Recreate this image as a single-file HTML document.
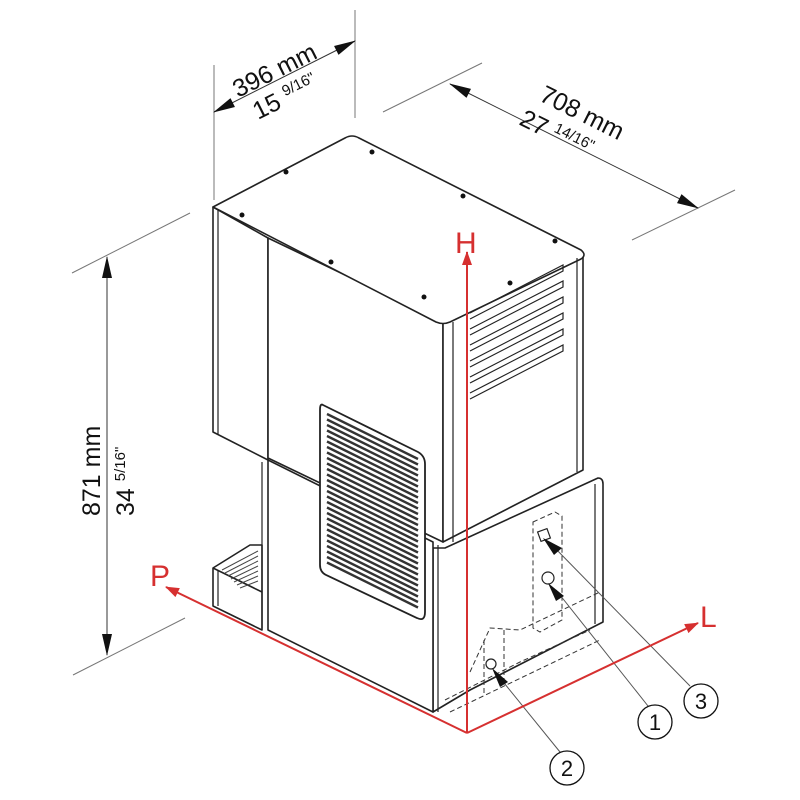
<!DOCTYPE html>
<html><head><meta charset="utf-8"><style>
html,body{margin:0;padding:0;background:#fff;}
svg{display:block;font-family:"Liberation Sans",Arial,sans-serif;}
</style></head><body>
<svg width="800" height="800" viewBox="0 0 800 800" xmlns="http://www.w3.org/2000/svg">
<defs>
<marker id="ar" markerWidth="14" markerHeight="10" refX="13" refY="5" orient="auto" markerUnits="userSpaceOnUse"><path d="M0,0 L14,5 L0,10 z" fill="#d63030"/></marker>
<marker id="ab" markerWidth="22" markerHeight="12" refX="21" refY="6" orient="auto-start-reverse" markerUnits="userSpaceOnUse"><path d="M0,1 L22,6 L0,11 z" fill="#111"/></marker>
</defs>
<g stroke="#777" stroke-width="1" fill="none">
<line x1="214" y1="65" x2="214" y2="200"/>
<line x1="355" y1="10" x2="355" y2="118"/>
<line x1="383" y1="112" x2="482" y2="63"/>
<line x1="632" y1="240" x2="735" y2="190"/>
<line x1="72" y1="273" x2="190" y2="213"/>
<line x1="73" y1="675" x2="185" y2="618"/>
</g>
<g stroke="#333" stroke-width="1">
<line x1="214" y1="112" x2="355" y2="41" marker-start="url(#ab)" marker-end="url(#ab)"/>
<line x1="450" y1="84" x2="698" y2="208" marker-start="url(#ab)" marker-end="url(#ab)"/>
<line x1="107" y1="257" x2="107" y2="655" marker-start="url(#ab)" marker-end="url(#ab)"/>
</g>
<g fill="#111" font-size="25">
<text transform="translate(238,98) rotate(-26.6)">396 mm</text>
<text transform="translate(258,120) rotate(-26.6)">15 <tspan font-size="15" dy="-9">9/16"</tspan></text>
<text transform="translate(538,100) rotate(26.6)">708 mm</text>
<text transform="translate(518,124) rotate(26.6)">27 <tspan font-size="15" dy="-9">14/16"</tspan></text>
<text transform="translate(100,516) rotate(-90)">871 mm</text>
<text transform="translate(134,516) rotate(-90)">34 <tspan font-size="15" dy="-9">5/16"</tspan></text>
</g>
<g stroke="#222" stroke-width="1.6" fill="#fff" stroke-linejoin="round">
<path d="M445,548 L598,478 Q603,478 603,484 L603,622 L470,690 L433,712 L433,548 z"/>
<path d="M268,460 L433,542 L433,712 L268,630 z"/>
<path d="M213,568 L250,545 L262,545 L262,630 L213,606 z"/>
<path d="M213,568 L262,592" fill="none"/>
<path d="M213,207 L268,238 L268,460 L213,432 z"/>
<path d="M268,238 L443,322 L443,542 L268,458 z"/>
<path d="M443,322 L583,254 L583,470 L443,542 z"/>
<path d="M213,207 L345,138 Q352,134 359,138 L581,250 Q587,255 581,259 L450,322 Q443,325 436,322 z"/>
</g>
<g stroke="#222" stroke-width="1.2" fill="none">
<line x1="453" y1="322" x2="453" y2="542"/>
<line x1="577" y1="258" x2="577" y2="472"/>
<line x1="218" y1="210" x2="218" y2="434"/>
<line x1="262" y1="462" x2="262" y2="628"/>
<line x1="438" y1="545" x2="438" y2="712"/>
<line x1="595" y1="484" x2="595" y2="624"/>
<line x1="218" y1="570" x2="218" y2="606"/>
</g>
<g stroke="#444" stroke-width="1">
<path d="M222,570 L258,551 M225,573 L258,556 M228,576 L258,561 M231,579 L258,566 M234,582 L258,571 M237,585 L258,576 M240,588 L258,581"/>
</g>
<g fill="#111">
<circle cx="242" cy="215" r="2.5"/><circle cx="286" cy="172" r="2.5"/><circle cx="372" cy="152" r="2.5"/>
<circle cx="331" cy="262" r="2.5"/><circle cx="463" cy="196" r="2.5"/><circle cx="424" cy="297" r="2.5"/>
<circle cx="555" cy="241" r="2.5"/><circle cx="510" cy="283" r="2.5"/>
</g>
<path d="M323,405 L418,452 Q425,456 425,464 L425,612 Q425,622 417,618 L326,575 Q320,572 320,565 L320,410 Q320,403 323,405 z" fill="#fff" stroke="#222" stroke-width="1.8"/>
<g stroke="#333" stroke-width="2.4">
<path d="M327,414L418,459M327,419.5L418,464.5M327,425L418,470M327,430.5L418,475.5M327,436L418,481M327,441.5L418,486.5M327,447L418,492M327,452.5L418,497.5M327,458L418,503M327,463.5L418,508.5M327,469L418,514M327,474.5L418,519.5M327,480L418,525M327,485.5L418,530.5M327,491L418,536M327,496.5L418,541.5M327,502L418,547M327,507.5L418,552.5M327,513L418,558M327,518.5L418,563.5M327,524L418,569M327,529.5L418,574.5M327,535L418,580M327,540.5L418,585.5M327,546L418,591M327,551.5L418,596.5M327,557L418,602M327,562.5L418,607.5"/>
</g>
<g stroke="#222" stroke-width="1.2" fill="none">
<path d="M470,313 L563,265 L563,271 L470,319"/>
<path d="M470,329 L563,281 L563,287 L470,335"/>
<path d="M470,345 L563,297 L563,303 L470,351"/>
<path d="M470,361 L563,313 L563,319 L470,367"/>
<path d="M470,377 L563,329 L563,335 L470,383"/>
<path d="M470,393 L563,345 L563,351 L470,399"/>
</g>
<g stroke="#333" stroke-width="1" fill="none" stroke-dasharray="5,3">
<path d="M533,522 L555,512 L562,516 L562,620 L540,632 L533,628 z"/>
<path d="M470,672 L490,628 L520,630 L600,592"/>
<path d="M484,640 L484,695 M504,630 L504,685"/>
<path d="M445,700 L520,662 L590,630"/>
<path d="M450,712 L600,640"/>
</g>
<g stroke="#222" stroke-width="1.2" fill="#fff">
<rect x="539" y="530" width="10" height="10" transform="rotate(-20 544 535)"/>
<circle cx="548" cy="578" r="6"/>
<circle cx="491" cy="664" r="5"/>
</g>
<g stroke="#555" stroke-width="1">
<line x1="552" y1="545" x2="690" y2="686"/>
<line x1="556" y1="590" x2="648" y2="706"/>
<line x1="500" y1="678" x2="560" y2="752"/>
</g>
<g fill="#111">
<path d="M543,538 L562,548 L554,555 z"/>
<path d="M548,583 L564,596 L556,601 z"/>
<path d="M492,668 L508,682 L500,687 z"/>
</g>
<g fill="#fff" stroke="#111" stroke-width="1.3">
<circle cx="701" cy="701" r="17"/><circle cx="655" cy="722" r="17"/><circle cx="567" cy="768" r="17"/>
</g>
<g font-size="22" fill="#111" text-anchor="middle">
<text x="701" y="709">3</text><text x="655" y="730">1</text><text x="567" y="776">2</text>
</g>
<g stroke="#d63030" stroke-width="2" fill="none">
<line x1="467" y1="733" x2="467" y2="252" marker-end="url(#ar)"/>
<line x1="467" y1="733" x2="698" y2="623" marker-end="url(#ar)"/>
<line x1="467" y1="733" x2="166" y2="587" marker-end="url(#ar)"/>
</g>
<g fill="#d63030" font-size="30">
<text x="455" y="253">H</text>
<text x="700" y="627">L</text>
<text x="150" y="586">P</text>
</g>
</svg>
</body></html>
